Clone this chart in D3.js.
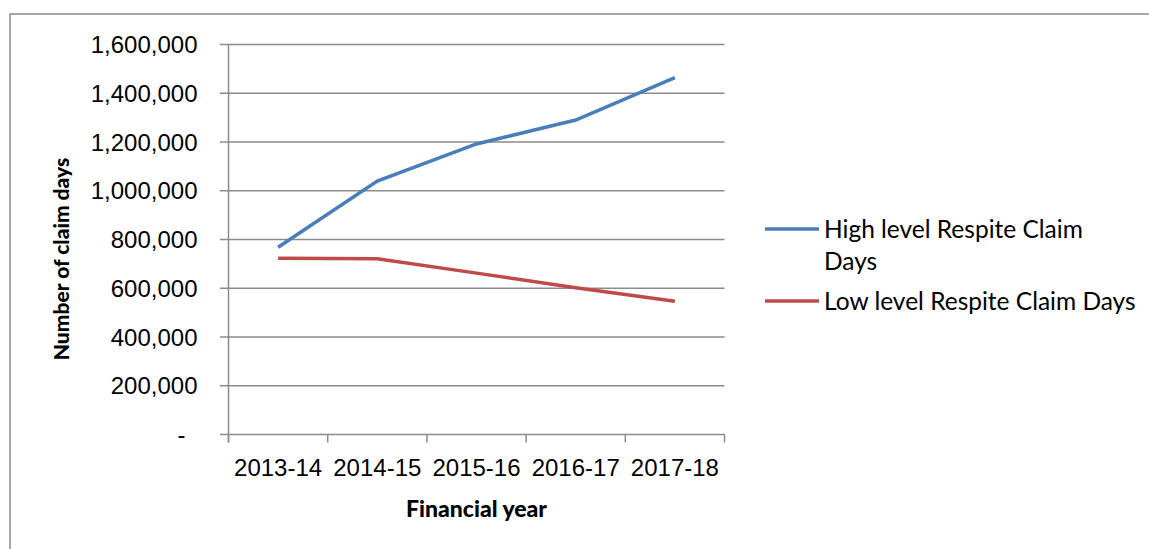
<!DOCTYPE html>
<html>
<head>
<meta charset="utf-8">
<script src="https://cdn.jsdelivr.net/npm/d3@7"></script>
<style>
  body { margin: 0; background: #fff; }
  svg { display: block; font-family: Lato, "Open Sans", sans-serif; }
</style>
</head>
<body>
<script>
const width = 1149, height = 549;

// chart data
const years = ["2013-14", "2014-15", "2015-16", "2016-17", "2017-18"];
const highLevel = [766000, 1038000, 1190000, 1288000, 1462000];
const lowLevel = [721000, 719000, 660000, 600000, 545000];
const seriesNames = ["High level Respite Claim Days", "Low level Respite Claim Days"];
const yTicks = [0, 200000, 400000, 600000, 800000, 1000000, 1200000, 1400000, 1600000];

const blue = "#4a7ebb", red = "#be4b48", gridColor = "#8c8c8c";
const plot = { left: 228.5, right: 724.5, top: 44, bottom: 434 };

const svg = d3.select("body").append("svg")
  .attr("width", width)
  .attr("height", height);

// outer chart border (runs off the right and bottom edges)
svg.append("rect")
  .attr("x", 10).attr("y", 14)
  .attr("width", width + 20).attr("height", height + 20)
  .attr("fill", "none")
  .attr("stroke", "#8a8a8a")
  .attr("stroke-width", 1.5);

const x = d3.scaleBand().domain(years).range([plot.left, plot.right]);
const y = d3.scaleLinear().domain([0, 1600000]).range([plot.bottom, plot.top]);
const cx = d => x(d) + x.bandwidth() / 2;

// gridlines + y labels
const fmt = d3.format(",");
const yAxis = svg.append("g")
  .attr("transform", `translate(${plot.left},0)`)
  .call(d3.axisLeft(y).tickValues(yTicks).tickSizeOuter(0).tickSizeInner(0).tickPadding(31)
    .tickFormat(d => d === 0 ? "-" : fmt(d)));
yAxis.select(".domain").remove();
yAxis.selectAll(".tick line")
  .attr("x1", -8.5).attr("x2", plot.right - plot.left)
  .attr("stroke", gridColor).attr("stroke-width", 1.5);
yAxis.selectAll(".tick text")
  .attr("font-size", 24).attr("fill", "#000")
  .attr("dy", "0.36em")
  .attr("dx", d => d === 0 ? -12 : 0);

// y axis line
svg.append("line")
  .attr("x1", plot.left).attr("x2", plot.left)
  .attr("y1", plot.top).attr("y2", plot.bottom + 8.5)
  .attr("stroke", gridColor).attr("stroke-width", 1.5);

// x axis labels
const xAxis = svg.append("g")
  .attr("transform", `translate(0,${plot.bottom})`)
  .call(d3.axisBottom(x).tickSize(0).tickPadding(25));
xAxis.select(".domain").remove();
xAxis.selectAll(".tick text").attr("font-size", 24).attr("fill", "#000");

// x tick marks at category boundaries
const edges = years.map(d => x(d)).concat([plot.right]);
svg.append("g").selectAll("line")
  .data(edges)
  .join("line")
  .attr("x1", d => d).attr("x2", d => d)
  .attr("y1", plot.bottom).attr("y2", plot.bottom + 8.5)
  .attr("stroke", gridColor).attr("stroke-width", 1.5);

// axis titles
svg.append("text")
  .attr("x", (plot.left + plot.right) / 2).attr("y", 517)
  .attr("text-anchor", "middle")
  .attr("font-size", 23).attr("font-weight", "900")
  .text("Financial year");

svg.append("text")
  .attr("transform", "translate(69,259) rotate(-90)")
  .attr("text-anchor", "middle")
  .attr("font-size", 21).attr("font-weight", "900")
  .text("Number of claim days");

// series lines
const line = d3.line().x((d, i) => cx(years[i])).y(d => y(d));
svg.append("path").datum(lowLevel)
  .attr("d", line).attr("fill", "none")
  .attr("stroke", red).attr("stroke-width", 3.5);
svg.append("path").datum(highLevel)
  .attr("d", line).attr("fill", "none")
  .attr("stroke", blue).attr("stroke-width", 3.5);

// legend
const legend = svg.append("g").attr("font-size", 24.5);
legend.append("line")
  .attr("x1", 765).attr("x2", 819).attr("y1", 229).attr("y2", 229)
  .attr("stroke", blue).attr("stroke-width", 3.5);
legend.append("text")
  .attr("x", 824).attr("y", 238)
  .text("High level Respite Claim");
legend.append("text")
  .attr("x", 824).attr("y", 270)
  .text("Days");
legend.append("line")
  .attr("x1", 765).attr("x2", 819).attr("y1", 301).attr("y2", 301)
  .attr("stroke", red).attr("stroke-width", 3.5);
legend.append("text")
  .attr("x", 824).attr("y", 310)
  .text(seriesNames[1]);
</script>
</body>
</html>
